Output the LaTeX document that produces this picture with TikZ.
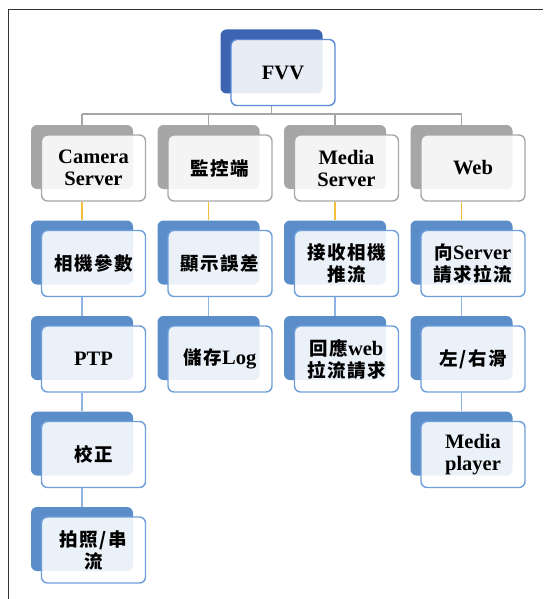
\documentclass[tikz,border=0pt]{standalone}
\usepackage{fontspec}
\setmainfont{Liberation Serif}
\newfontfamily\cjkf{Noto Sans CJK TC}[LetterSpace=8]
\newcommand{\cj}[1]{{\cjkf\bfseries\fontsize{18.5}{22}\selectfont #1}}
\usetikzlibrary{backgrounds}
\definecolor{fvvback}{HTML}{3C64B1}
\definecolor{fvvline}{HTML}{5B8BD5}
\definecolor{grayback}{HTML}{A6A6A6}
\definecolor{grayline}{HTML}{A8A8A8}
\definecolor{blueback}{HTML}{5B8DC9}
\definecolor{blueline}{HTML}{6E9FDC}
\definecolor{yellowln}{HTML}{F5BE3A}
\definecolor{lightln}{HTML}{8FB4E3}
\definecolor{topln}{HTML}{A6A6A6}
\newcommand{\boxpair}[5]{%
  \node[backbox, fill=#4back] (b#1) at (#2,#3) {};
  \node[frontbox, draw=#4line] (f#1) at (#2+11.5,#3+11) {#5};
}
\tikzset{
  backbox/.style={rectangle, rounded corners=6pt, minimum width=102pt, minimum height=64pt, inner sep=0pt},
  frontbox/.style={rectangle, rounded corners=6pt, minimum width=104pt, minimum height=66pt,
    fill=white, fill opacity=0.88, text opacity=1, line width=1.4pt, align=center,
    font=\fontsize{20.5}{22}\selectfont\bfseries, inner sep=0pt},
  conn/.style={line width=1.4pt}
}
\begin{document}
\begin{tikzpicture}[x=1pt,y=-1pt]
\useasboundingbox (0,0) rectangle (543,599);
\draw[line width=1pt, black!80] (543,10) -- (8,10) -- (8,599);

\boxpair{0}{271.5}{61.5}{fvv}{FVV}

\boxpair{11}{82}{157}{gray}{Camera\\Server}
\boxpair{21}{208.5}{157}{gray}{\cj{監控端}}
\boxpair{31}{335}{157}{gray}{Media\\Server}
\boxpair{41}{461.5}{157}{gray}{Web}

\boxpair{12}{82}{252.5}{blue}{\cj{相機參數}}
\boxpair{22}{208.5}{252.5}{blue}{\cj{顯示誤差}}
\boxpair{32}{335}{252.5}{blue}{\cj{接收相機}\\\cj{推流}}
\boxpair{42}{461.5}{252.5}{blue}{\cj{向}Server\\\cj{請求拉流}}

\boxpair{13}{82}{348}{blue}{PTP}
\boxpair{23}{208.5}{348}{blue}{\cj{儲存}Log}
\boxpair{33}{335}{348}{blue}{\cj{回應}web\\\cj{拉流請求}}
\boxpair{43}{461.5}{348}{blue}{\cj{左/右滑}}

\boxpair{14}{82}{443.5}{blue}{\cj{校正}}
\boxpair{44}{461.5}{443.5}{blue}{Media\\player}

\boxpair{15}{82}{539}{blue}{\cj{拍照/串}\\\cj{流}}

\begin{scope}[on background layer]
  \coordinate (bar) at (271.5,114);
  \draw[conn, topln] (f0.south -| b0) -- (bar);
  \draw[conn, topln] (b11 |- bar) -- (b41 |- bar);
  \foreach \k in {11,21,31,41} {\draw[conn, topln] (b\k |- bar) -- (b\k.north);}
  \foreach \c in {1,2,3,4} {\draw[conn, yellowln] (f\c1.south -| b\c1) -- (b\c2.north);}
  \foreach \a/\b in {12/13,13/14,14/15,22/23,32/33,42/43,43/44}
    {\draw[conn, lightln] (f\a.south -| b\a) -- (b\b.north);}
\end{scope}
\end{tikzpicture}
\end{document}
